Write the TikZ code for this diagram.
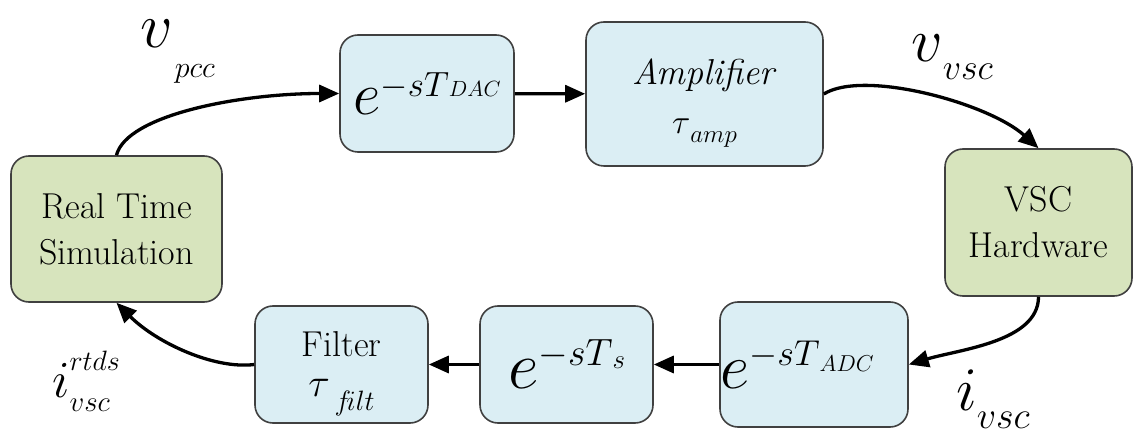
\RequirePackage{fix-cm}
\documentclass[tikz,border=0pt]{standalone}
\usetikzlibrary{arrows.meta,positioning}
\definecolor{DelayFill}{HTML}{DBEEF4}
\definecolor{PlantFill}{HTML}{D7E4BD}
\definecolor{BoxBorder}{HTML}{404040}
\newcommand{\fsz}[2]{{\fontsize{#1}{#1}\selectfont #2}}
\tikzset{
  delaybox/.style={draw=BoxBorder, fill=DelayFill, line width=1.6pt, rounded corners=18pt,
                align=center, inner sep=0pt, font=\fontsize{36}{44}\selectfont},
  plantbox/.style={draw=BoxBorder, fill=PlantFill, line width=1.6pt, rounded corners=18pt,
                align=center, inner sep=0pt, font=\fontsize{36}{46}\selectfont},
  signal/.style={-{Triangle[length=20pt,width=17pt]}, line width=3.3pt, black},
  siglabel/.style={inner sep=0pt, anchor=base west},
}

\begin{document}
\begin{tikzpicture}[x=1pt, y=-1pt]
  \useasboundingbox (0,0) rectangle (1135,435);

  % --- Simulação e hardware ----------------------------------------------
  \node[plantbox, minimum width=211pt, minimum height=146pt] (rts) at (116.5,229) {Real Time\\Simulation};
  \node[plantbox, minimum width=187pt, minimum height=147pt] (vsc) at (1038.5,222.5) {VSC\\Hardware};

  % --- Caminho direto (DAC -> amplificador) ------------------------------
  \node[delaybox, minimum width=174pt, minimum height=117pt] (dac) at (427,93.5)
    {\fsz{60}{$e$}\raisebox{18pt}{\fsz{35}{$-sT$}\fsz{22}{$DAC$}}};
  \node[delaybox, minimum width=237pt, minimum height=144pt] (amp) at (704.5,94)
    {\fsz{36}{\textit{Amplifier}}\rule{0pt}{44pt}\\[5pt]\fsz{34}{$\tau$}\raisebox{-9pt}{\fsz{25}{$amp$}}};

  % --- Caminho de retorno (ADC -> amostragem -> filtro) -------------------
  \node[delaybox, minimum width=188pt, minimum height=125pt] (adc) at (814,364.5)
    {\hspace*{-34pt}\fsz{64}{$e$}\raisebox{23pt}{\fsz{36}{$-sT$}\raisebox{-6pt}{\fsz{23}{$ADC$}}}};
  \node[delaybox, minimum width=173pt, minimum height=117pt] (ts) at (566.5,364.5)
    {\fsz{67}{$e$}\raisebox{23pt}{\fsz{38}{$-sT$}\raisebox{-3pt}{\fsz{27}{$s$}}}};
  \node[delaybox, minimum width=173pt, minimum height=117pt] (filt) at (341.5,364.5)
    {Filter\rule{0pt}{44pt}\\[-4pt]\fsz{40}{$\tau$}\raisebox{-14pt}{\fsz{28}{$\,f\!ilt$}}};

  % --- Ligações -------------------------------------------------------------
  \draw[signal] (rts.north) .. controls +(10,-40) and +(-100,0) .. (dac.west);
  \draw[signal] (dac) -- (amp);
  \draw[signal] (amp.east) .. controls +(40,-25) and +(-50,-45) .. (vsc.north);
  \draw[signal] (vsc.south) .. controls +(0,45) and +(50,-15) .. (adc.east);
  \draw[signal] (adc) -- (ts);
  \draw[signal] (ts) -- (filt);
  \draw[signal] (filt.west) .. controls +(-40,5) and +(40,40) .. (rts.south);

  % --- Rótulos dos sinais ---------------------------------------------------
  \node[siglabel] (vpcc) at (140,48) {\fsz{64}{$v$}\hspace{2pt}\raisebox{-30pt}{\fsz{30}{$pcc$}}};
  \node[siglabel] (vvsc) at (911,62) {\fsz{62}{$v$}\raisebox{-18pt}{\fsz{36}{$vsc$}}};
  \node[siglabel] (ivsc) at (956,410) {\fsz{62}{$i$}\raisebox{-18pt}{\fsz{38}{$vsc$}}};
  \node[siglabel] (irtds) at (52,397) {\fsz{52}{$i$}\rlap{\raisebox{26pt}{\fsz{28}{$rtds$}}}\raisebox{-14pt}{\fsz{29}{$vsc$}}};

\end{tikzpicture}
\end{document}
